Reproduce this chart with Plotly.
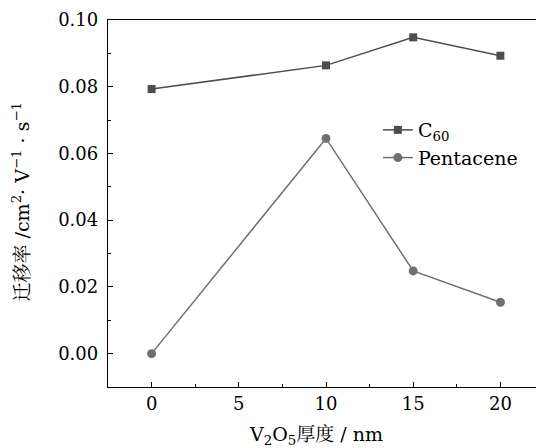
import plotly.graph_objects as go

thickness = [0, 10, 15, 20]
c60 = [0.0793, 0.0864, 0.0948, 0.0893]
pentacene = [0.0000, 0.0645, 0.0248, 0.0154]

x_ticks = [0, 5, 10, 15, 20]
y_ticks = [0.00, 0.02, 0.04, 0.06, 0.08, 0.10]
y_tick_labels = ["0.00", "0.02", "0.04", "0.06", "0.08", "0.10"]

FONT = "DejaVu Serif, Noto Serif CJK SC, Noto Sans CJK SC, serif"

fig = go.Figure()
fig.add_trace(go.Scatter(
    x=thickness, y=c60, mode="lines+markers", name="C<sub>60</sub>",
    line=dict(color="#4d4d4d", width=1.5),
    marker=dict(symbol="square", size=8, color="#4d4d4d"),
))
fig.add_trace(go.Scatter(
    x=thickness, y=pentacene, mode="lines+markers", name="Pentacene",
    line=dict(color="#6f6f6f", width=1.5),
    marker=dict(symbol="circle", size=9, color="#6f6f6f"),
))

# page body has an 8px margin, so the figure is 8px smaller and shifted
fig.update_layout(
    width=536, height=440,
    margin=dict(l=100, r=0, t=12, b=61),
    paper_bgcolor="white", plot_bgcolor="white",
    font=dict(family=FONT, size=18, color="black"),
    showlegend=True,
    legend=dict(x=0.619, y=0.752, xanchor="left", yanchor="top",
                bgcolor="rgba(0,0,0,0)", font=dict(size=19),
                tracegroupgap=0),
    annotations=[
        dict(text="V<sub>2</sub>O<sub>5</sub>厚度 / nm", xref="paper", yref="paper",
             x=0.477, y=-0.131, xanchor="center", yanchor="middle",
             showarrow=False, font=dict(size=19)),
        dict(text="迁移率 /cm<sup>2</sup>· V<sup>−1</sup> · s<sup>−1</sup>",
             xref="paper", yref="paper", x=-0.200, y=0.505,
             xanchor="center", yanchor="middle", textangle=-90,
             showarrow=False, font=dict(size=19)),
    ],
)

fig.update_xaxes(
    range=[-2.5, 22.5], tickvals=x_ticks, ticks="inside", ticklen=5, tickwidth=1.2,
    tickcolor="black", showline=True, linecolor="black", linewidth=1.3,
    mirror=True, showgrid=False, zeroline=False, automargin=False,
    minor=dict(dtick=2.5, tick0=0, ticks="inside", ticklen=3, tickcolor="black", tickwidth=1),
)
fig.update_yaxes(
    range=[-0.01, 0.10], tickvals=y_ticks, ticktext=y_tick_labels, ticks="inside",
    ticklen=5, tickwidth=1.2, tickcolor="black", showline=True, linecolor="black",
    linewidth=1.3, mirror=False, showgrid=False, zeroline=False, automargin=False,
    ticklabelstandoff=5,
    minor=dict(dtick=0.01, tick0=0, ticks="inside", ticklen=3, tickcolor="black", tickwidth=1),
)

fig.write_html("out.html")
